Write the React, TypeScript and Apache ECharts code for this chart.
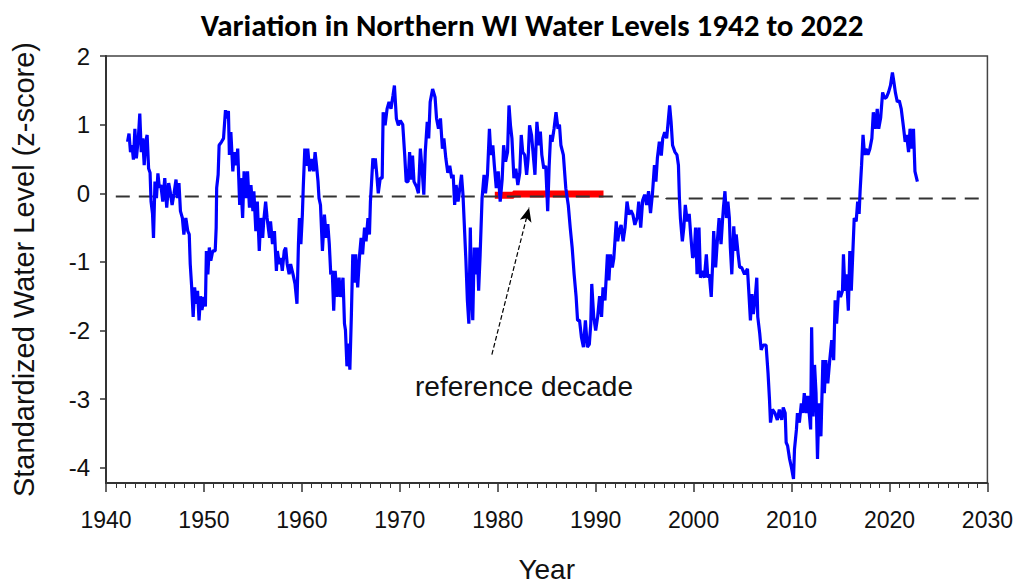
import { useEffect, useRef } from "react";
import * as echarts from "echarts";

// Standardized water level (z-score) by decimal year
const years = [
  1942.2, 1942.35, 1942.5, 1942.65, 1942.8, 1942.95, 1943.1, 1943.3, 1943.45, 1943.6, 1943.75, 1943.9,
  1944.05, 1944.2, 1944.35, 1944.5, 1944.6, 1944.75, 1944.85, 1945.0, 1945.15, 1945.3, 1945.45, 1945.6,
  1945.8, 1946.0, 1946.2, 1946.4, 1946.55, 1946.75, 1946.95, 1947.15, 1947.3, 1947.45, 1947.6, 1947.8,
  1947.95, 1948.15, 1948.35, 1948.5, 1948.6, 1948.75, 1948.9, 1949.05, 1949.2, 1949.35, 1949.5, 1949.65,
  1949.8, 1950.0, 1950.15, 1950.25, 1950.4, 1950.55, 1950.7, 1950.9, 1951.15, 1951.25, 1951.3, 1951.45,
  1951.55, 1951.8, 1952.0, 1952.2, 1952.35, 1952.5, 1952.6, 1952.75, 1952.95, 1953.1, 1953.3, 1953.45,
  1953.65, 1953.75, 1953.95, 1954.1, 1954.3, 1954.45, 1954.65, 1954.8, 1955.0, 1955.1, 1955.3, 1955.45,
  1955.65, 1955.8, 1956.0, 1956.1, 1956.3, 1956.45, 1956.7, 1956.8, 1957.0, 1957.2, 1957.4, 1957.5,
  1957.7, 1957.85, 1958.0, 1958.2, 1958.35, 1958.5, 1958.7, 1958.85, 1959.1, 1959.3, 1959.5, 1959.65,
  1959.75, 1959.9, 1960.05, 1960.15, 1960.3, 1960.45, 1960.6, 1960.8, 1961.0, 1961.2, 1961.35, 1961.5,
  1961.65, 1961.75, 1961.9, 1962.1, 1962.3, 1962.5, 1962.65, 1962.8, 1962.95, 1963.1, 1963.25, 1963.4,
  1963.6, 1963.8, 1963.95, 1964.2, 1964.35, 1964.45, 1964.6, 1964.75, 1964.9, 1965.05, 1965.2, 1965.35,
  1965.5, 1965.7, 1965.9, 1966.05, 1966.2, 1966.4, 1966.55, 1966.75, 1966.9, 1967.0, 1967.1, 1967.25,
  1967.4, 1967.5, 1967.65, 1967.8, 1968.0, 1968.2, 1968.3, 1968.5, 1968.7, 1968.9, 1969.1, 1969.3,
  1969.45, 1969.65, 1969.85, 1970.05, 1970.3, 1970.5, 1970.65, 1970.85, 1971.0, 1971.15, 1971.3, 1971.45,
  1971.7, 1971.9, 1972.1, 1972.3, 1972.45, 1972.6, 1972.8, 1972.95, 1973.1, 1973.35, 1973.6, 1973.75,
  1973.95, 1974.15, 1974.35, 1974.5, 1974.7, 1974.9, 1975.1, 1975.3, 1975.45, 1975.6, 1975.75, 1975.95,
  1976.15, 1976.3, 1976.45, 1976.6, 1976.75, 1976.9, 1977.05, 1977.2, 1977.3, 1977.45, 1977.6, 1977.75,
  1977.9, 1978.05, 1978.2, 1978.4, 1978.6, 1978.75, 1978.95, 1979.15, 1979.3, 1979.5, 1979.65, 1979.85,
  1980.05, 1980.25, 1980.45, 1980.6, 1980.8, 1981.0, 1981.15, 1981.3, 1981.45, 1981.65, 1981.85, 1982.05,
  1982.25, 1982.4, 1982.55, 1982.75, 1982.95, 1983.1, 1983.25, 1983.45, 1983.6, 1983.8, 1984.0, 1984.2,
  1984.35, 1984.5, 1984.7, 1984.9, 1985.0, 1985.1, 1985.25, 1985.4, 1985.55, 1985.75, 1985.95, 1986.15,
  1986.3, 1986.45, 1986.7, 1986.95, 1987.2, 1987.4, 1987.6, 1987.8, 1988.0, 1988.15, 1988.35, 1988.55,
  1988.75, 1988.95, 1989.15, 1989.35, 1989.5, 1989.6, 1989.8, 1990.0, 1990.2, 1990.4, 1990.6, 1990.75,
  1990.95, 1991.2, 1991.35, 1991.5, 1991.7, 1991.85, 1992.1, 1992.25, 1992.4, 1992.6, 1992.8, 1993.0,
  1993.2, 1993.4, 1993.6, 1993.8, 1994.0, 1994.25, 1994.4, 1994.6, 1994.8, 1995.0, 1995.2, 1995.4,
  1995.6, 1995.8, 1996.0, 1996.15, 1996.3, 1996.5, 1996.7, 1996.85, 1997.05, 1997.25, 1997.4, 1997.55,
  1997.7, 1997.85, 1998.1, 1998.3, 1998.45, 1998.55, 1998.65, 1998.85, 1999.0, 1999.15, 1999.35, 1999.55,
  1999.7, 1999.9, 2000.05, 2000.2, 2000.35, 2000.55, 2000.7, 2000.9, 2001.1, 2001.3, 2001.45, 2001.6,
  2001.8, 2001.95, 2002.05, 2002.25, 2002.4, 2002.6, 2002.8, 2002.95, 2003.05, 2003.2, 2003.35, 2003.5,
  2003.65, 2003.75, 2003.9, 2004.1, 2004.25, 2004.35, 2004.55, 2004.7, 2004.9, 2005.2, 2005.5, 2005.65,
  2005.8, 2005.95, 2006.1, 2006.3, 2006.45, 2006.55, 2006.75, 2006.9, 2007.1, 2007.4, 2007.6, 2007.75,
  2007.85, 2008.05, 2008.3, 2008.55, 2008.75, 2009.0, 2009.15, 2009.35, 2009.45, 2009.6, 2009.8, 2010.0,
  2010.2, 2010.3, 2010.5, 2010.6, 2010.8, 2011.0, 2011.15, 2011.3, 2011.5, 2011.65, 2011.8, 2011.95,
  2012.05, 2012.2, 2012.35, 2012.5, 2012.65, 2012.8, 2013.0, 2013.2, 2013.35, 2013.5, 2013.7, 2013.9,
  2014.1, 2014.3, 2014.45, 2014.6, 2014.8, 2015.0, 2015.2, 2015.3, 2015.45, 2015.6, 2015.8, 2015.95,
  2016.1, 2016.25, 2016.4, 2016.6, 2016.75, 2016.9, 2017.0, 2017.15, 2017.3, 2017.45, 2017.6, 2017.8,
  2018.0, 2018.2, 2018.35, 2018.55, 2018.75, 2018.9, 2019.1, 2019.3, 2019.5, 2019.7, 2019.9, 2020.1,
  2020.3, 2020.45, 2020.6, 2020.8, 2021.0, 2021.2, 2021.45, 2021.6, 2021.75, 2021.95, 2022.1, 2022.3,
  2022.45, 2022.6, 2022.85,
];

const zScores = [
  0.75, 0.87, 0.6, 0.7, 0.49, 0.94, 0.51, 0.8, 1.16, 0.6, 0.8, 0.41,
  0.75, 0.85, 0.36, 0.3, -0.12, -0.3, -0.65, 0.17, -0.07, 0.29, 0.08, 0.12,
  -0.12, 0.22, -0.21, 0.15, 0.03, -0.17, 0.0, 0.2, -0.07, 0.15, -0.26, -0.36,
  -0.6, -0.36, -0.55, -0.6, -1.03, -1.37, -1.8, -1.37, -1.61, -1.42, -1.85, -1.5,
  -1.7, -1.51, -1.65, -0.84, -1.18, -0.79, -0.98, -0.84, -0.84, -0.5, 0.08, 0.27,
  0.7, 0.75, 0.8, 1.21, 1.09, 1.2, 0.56, 0.89, 0.32, 0.6, 0.41, 0.65,
  -0.17, 0.22, -0.36, 0.32, -0.07, 0.32, -0.21, 0.12, -0.26, 0.03, -0.55, -0.12,
  -0.84, -0.36, -0.65, -0.41, -0.12, -0.36, -0.65, -0.41, -0.74, -0.55, -1.13, -0.84,
  -1.03, -0.94, -1.13, -0.84, -0.79, -1.03, -1.18, -1.03, -1.18, -1.32, -1.61, -0.74,
  -0.36, -0.74, -0.31, 0.12, 0.65, 0.4, 0.65, 0.32, 0.5, 0.32, 0.6, 0.4,
  0.17, -0.07, -0.17, -0.84, -0.31, -0.65, -0.45, -0.74, -1.18, -1.13, -1.71, -1.13,
  -1.51, -1.23, -1.51, -1.23, -1.9, -1.99, -2.52, -2.19, -2.57, -1.8, -0.89, -1.3,
  -0.89, -1.37, -0.89, -0.65, -0.89, -0.5, -0.7, -0.36, -0.6, -0.12, 0.12, 0.51,
  0.36, 0.51, 0.27, 0.0, 0.22, 0.22, 1.18, 0.99, 1.23, 1.33, 1.23, 1.42,
  1.57, 1.09, 0.99, 1.06, 1.0, 0.56, 0.17, 0.17, 0.6, 0.2, 0.55, 0.17,
  0.1, 0.0, 0.65, 0.3, -0.02, 0.6, 1.04, 0.8, 1.33, 1.52, 1.4, 1.09,
  0.94, 1.09, 0.65, 0.8, 0.51, 0.3, 0.4, 0.22, 0.27, -0.17, 0.12, -0.12,
  0.1, 0.27, -0.02, -0.5, -0.98, -1.56, -1.9, -0.5, -1.37, -1.85, -0.79, -1.18,
  -0.79, -1.42, -0.9, -0.07, 0.27, 0.0, 0.27, 0.94, 0.56, 0.7, 0.41, 0.075,
  0.32, -0.12, 0.2, 0.7, 0.46, 0.6, 1.28, 0.99, 0.8, 0.22, 0.36, 0.12,
  0.3, 0.85, 0.6, 0.56, 0.27, 0.5, 0.99, 0.85, 0.6, 0.27, 1.04, 0.7,
  0.9, 0.56, 0.36, 0.4, 0.075, -0.26, 0.4, 0.85, 0.75, 0.94, 1.18, 0.94,
  1.0, 0.7, 0.56, 0.075, -0.17, -0.5, -0.79, -1.18, -1.5, -1.85, -1.85, -2.1,
  -2.24, -1.85, -2.24, -2.2, -1.9, -1.32, -1.8, -2.0, -1.8, -1.5, -1.8, -1.37,
  -1.56, -0.89, -1.27, -0.89, -1.08, -0.95, -0.41, -0.7, -0.55, -0.46, -0.7, -0.5,
  -0.12, -0.31, -0.25, -0.31, -0.46, -0.35, -0.12, -0.5, -0.1, -0.02, -0.17, 0.03,
  -0.29, 0.0, 0.41, 0.17, 0.51, 0.75, 0.55, 0.8, 0.89, 0.8, 1.04, 1.28,
  1.04, 0.7, 0.6, 0.56, 0.41, -0.07, -0.36, -0.7, -0.5, -0.17, -0.41, -0.3,
  -0.6, -0.94, -0.9, -0.5, -1.18, -0.5, -1.23, -1.13, -1.23, -0.89, -1.23, -1.18,
  -1.51, -1.0, -0.55, -1.08, -0.74, -0.36, -0.74, -0.4, -0.2, 0.03, -0.36, -0.12,
  -0.36, -0.79, -1.18, -0.48, -0.84, -0.6, -0.89, -1.08, -1.08, -1.18, -1.1, -1.47,
  -1.85, -1.47, -1.76, -1.5, -1.23, -1.8, -2.04, -2.28, -2.21, -2.21, -2.62, -3.01,
  -3.34, -3.15, -3.2, -3.3, -3.15, -3.3, -3.12, -3.2, -3.63, -3.68, -3.87, -4.0,
  -4.16, -3.73, -3.44, -3.2, -3.34, -3.06, -3.2, -2.91, -3.2, -2.95, -3.2, -3.44,
  -1.95, -3.25, -2.5, -2.91, -3.87, -3.06, -3.54, -2.43, -2.91, -2.43, -2.77, -2.43,
  -2.14, -2.43, -1.56, -1.9, -1.42, -1.51, -1.42, -0.89, -1.42, -1.18, -1.71, -0.84,
  -1.42, -0.89, -0.36, -0.41, -0.12, -0.3, 0.03, 0.41, 0.85, 0.56, 0.65, 0.56,
  0.65, 0.8, 1.18, 0.94, 1.23, 0.94, 1.1, 1.47, 1.38, 1.4, 1.47, 1.57,
  1.76, 1.62, 1.47, 1.33, 1.35, 1.23, 0.94, 0.75, 0.85, 0.6, 0.94, 0.65,
  0.94, 0.32, 0.17,
];

// dashed long-term mean line
const baselineYears = [1941, 1997.2, 1997.2, 2030];
const baselineValues = [-0.045, -0.045, -0.075, -0.075];

// red reference decade bar
const refYears = [1979.7, 1981.6, 1981.6, 1990.8];
const refValues = [-0.03, -0.03, -0.01, -0.01];

// annotation arrow (tail -> head), in data units
const arrowTail = [1979.4, -2.35];
const arrowHead = [1983.2, -0.21];

const xMin = 1940;
const xMax = 2030;
const xStep = 10;
const yMin = -4.22;
const yMax = 2;

const TITLE = "Variation in Northern WI Water Levels 1942 to 2022";
const NOTE = "reference decade";

export default function App() {
  const ref = useRef<HTMLDivElement>(null);
  useEffect(() => {
    if (!ref.current) return;
    const chart = echarts.init(ref.current, null, { renderer: "svg" });
    const axisFont = '"Liberation Sans", Arial, sans-serif';
    chart.setOption({
      animation: false,
      backgroundColor: "#fff",
      grid: {
        left: 106,
        top: 56,
        right: 22,
        bottom: 101,
        show: true,
        borderColor: "#444",
        borderWidth: 1.5,
        backgroundColor: "transparent",
      },
      graphic: [
        {
          type: "text",
          x: 532,
          y: 25,
          style: {
            text: TITLE,
            font: 'bold 31px Carlito, Lato, "Open Sans", sans-serif',
            fill: "#000",
            align: "center",
            verticalAlign: "middle",
          },
        },
        {
          type: "text",
          x: 524,
          y: 386,
          style: {
            text: NOTE,
            font: '28px "Liberation Sans", Arial, sans-serif',
            fill: "#111",
            align: "center",
            verticalAlign: "middle",
          },
        },
      ],
      xAxis: {
        type: "value",
        min: xMin,
        max: xMax,
        interval: xStep,
        name: "Year",
        nameLocation: "middle",
        nameGap: 72,
        nameTextStyle: { fontFamily: axisFont, fontSize: 28, color: "#111" },
        axisLine: { show: true, onZero: false, lineStyle: { color: "#333", width: 2 } },
        axisTick: { show: true, inside: false, length: 9, lineStyle: { color: "#333", width: 1.5 } },
        minorTick: { show: true, splitNumber: 10, length: 5, lineStyle: { color: "#333", width: 1 } },
        splitLine: { show: false },
        minorSplitLine: { show: false },
        axisLabel: {
          margin: 25,
          fontFamily: axisFont,
          fontSize: 23,
          color: "#111",
          formatter: (v: number) => String(v),
        },
      },
      yAxis: {
        type: "value",
        min: yMin,
        max: yMax,
        name: "Standardized Water Level (z-score)",
        nameLocation: "middle",
        nameGap: 68,
        nameTextStyle: { fontFamily: axisFont, fontSize: 29, color: "#111" },
        axisLine: { show: true, onZero: false, lineStyle: { color: "#333", width: 2 } },
        axisTick: { show: true, inside: false, length: 6, lineStyle: { color: "#333", width: 1.5 } },
        splitLine: { show: false },
        axisLabel: {
          margin: 16,
          showMinLabel: false,
          fontFamily: axisFont,
          fontSize: 24,
          color: "#111",
        },
      },
      series: [
        {
          type: "line",
          name: "reference",
          data: refYears.map((x, i) => [x, refValues[i]]),
          showSymbol: false,
          lineStyle: { color: "#ff0000", width: 7 },
          z: 2,
          markLine: {
            silent: true,
            symbol: ["none", "arrow"],
            symbolSize: [9, 14],
            label: { show: false },
            lineStyle: { type: "dashed", color: "#000", width: 1.2 },
            data: [[{ coord: arrowTail }, { coord: arrowHead }]],
          },
        },
        {
          type: "line",
          name: "mean",
          data: baselineYears.map((x, i) => [x, baselineValues[i]]),
          showSymbol: false,
          lineStyle: { color: "#333", width: 2, type: [14, 9] },
          z: 3,
        },
        {
          type: "line",
          name: "level",
          data: years.map((x, i) => [x, zScores[i]]),
          showSymbol: false,
          lineStyle: { color: "#0000ff", width: 3.2 },
          z: 4,
        },
      ],
    });
    return () => chart.dispose();
  }, []);
  return (
    <div
      ref={ref}
      style={{ position: "fixed", left: 0, top: 0, width: 1016, height: 588 }}
    />
  );
}
